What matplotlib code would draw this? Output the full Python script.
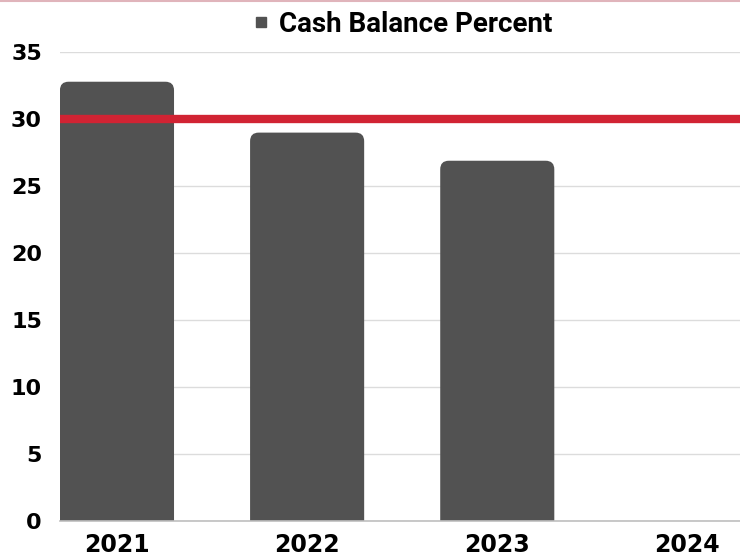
import matplotlib
matplotlib.use("Agg")
import matplotlib.pyplot as plt
from matplotlib.patches import FancyBboxPatch
from matplotlib.lines import Line2D

# data
years = ["2021", "2022", "2023", "2024"]
cash_pct = [32.8, 29.0, 26.9, None]
target = 30

plt.rcParams['font.family'] = ['DejaVu Sans']
plt.rcParams['font.weight'] = 'bold'

fig = plt.figure(figsize=(7.4, 5.56), dpi=100)
ax = fig.add_axes([0.081, 0.063, 0.925, 0.843])

bar_w = 0.6
xs = list(range(len(years)))
ax.set_xlim(-0.3, 3.3)
ax.set_ylim(0, 35)

# px ratio for round corners
x_per_px = 3.6 / (0.925 * 740)
y_per_px = 35 / (0.843 * 556)
asp = y_per_px / x_per_px

for x, v in zip(xs, cash_pct):
    if v is None:
        continue
    p = FancyBboxPatch((x - bar_w / 2, -2), bar_w, v + 2,
                       boxstyle="round,pad=0,rounding_size=0.045",
                       mutation_aspect=asp, fc='#525252', ec='none', zorder=2)
    ax.add_patch(p)

ax.plot([xs[0] - bar_w / 2, 3.3], [target, target], color='#D12333', lw=6, zorder=3,
        solid_capstyle='butt')

ax.set_yticks(range(0, 36, 5))
ax.set_xticks(xs)
ax.set_xticklabels(years)
ax.tick_params(axis='x', length=0, labelsize=17, pad=9)
ax.tick_params(axis='y', length=0, labelsize=16, pad=13)
ax.grid(axis='y', color='#dcdcdc', lw=1, zorder=0)
ax.set_axisbelow(True)
for s in ['top', 'right', 'left']:
    ax.spines[s].set_visible(False)
ax.spines['bottom'].set_color('#bfbfbf')
ax.spines['bottom'].set_linewidth(1.2)

h = Line2D([], [], marker='s', color='#525252', ls='none', markersize=7)
leg = ax.legend([h], ["Cash Balance Percent"], loc='lower center', bbox_to_anchor=(0.5, 0.99),
                frameon=False, prop={'family': 'Roboto', 'weight': 'bold', 'size': 20},
                handlelength=0.7, handletextpad=0.3, borderaxespad=0.3)

# thin top line
fig.add_artist(Line2D([0, 1], [0.998, 0.998], color='#e0b4bb', lw=1.5, transform=fig.transFigure))

fig.savefig("out.png", dpi=100)
